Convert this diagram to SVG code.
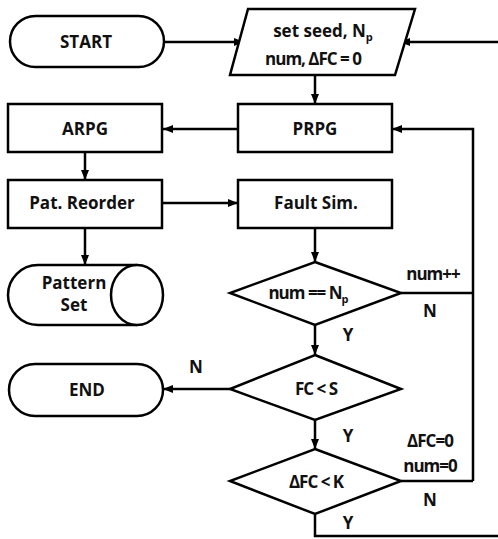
<svg xmlns="http://www.w3.org/2000/svg" width="498" height="539" viewBox="0 0 498 539">
<defs>
<marker id="ah" viewBox="0 0 10 10" refX="10" refY="5" markerWidth="4" markerHeight="4" orient="auto" markerUnits="strokeWidth">
<path d="M0,1 L10,5 L0,9 z" fill="#000"/>
</marker>
<style>
.s{fill:#fff;stroke:#000;stroke-width:2.5}
.c{fill:none;stroke:#000;stroke-width:2.5}
.a{marker-end:url(#ah)}
text{font-family:"Open Sans","Noto Sans","Liberation Sans",sans-serif;font-weight:700;font-size:17px;fill:#111}
.m{text-anchor:middle}
.n{letter-spacing:-1px}
.sub{font-size:11px}
</style>
</defs>
<rect width="498" height="539" fill="#fff"/>
<g id="connectors">
<path class="c a" d="M164,42 L244,42"/>
<path class="c a" d="M498,42 L400,42"/>
<path class="c a" d="M315,75 L315,104"/>
<path class="c a" d="M238,129 L163,129"/>
<path class="c a" d="M85,152 L85,180"/>
<path class="c a" d="M162,203 L238,203"/>
<path class="c a" d="M315,228 L315,262"/>
<path class="c a" d="M85,228 L85,265"/>
<path class="c" d="M401,293 L473,293"/>
<path class="c a" d="M473,481 L473,129 L392,129"/>
<path class="c a" d="M315,325 L315,355"/>
<path class="c a" d="M230,389 L163,389"/>
<path class="c a" d="M315,420 L315,449"/>
<path class="c" d="M401,481 L473,481"/>
<path class="c" d="M315,514 L315,536 L498,536"/>
<text x="433" y="280" class="m n">num++</text>
<text x="430" y="317" class="m">N</text>
<text x="348" y="341" class="m">Y</text>
<text x="196" y="373" class="m">N</text>
<text x="348" y="442" class="m">Y</text>
<text x="430" y="447" class="m n">ΔFC=0</text>
<text x="430" y="472" class="m n">num=0</text>
<text x="430" y="506" class="m">N</text>
<text x="348" y="529" class="m">Y</text>
</g>
<g id="start">
<rect class="s" x="10" y="16" width="154" height="51" rx="25.5"/>
<text x="86" y="48" class="m">START</text>
</g>
<g id="init">
<path class="s" d="M248,9 L415,9 L395,75 L230,75 z"/>
<text x="323" y="37" class="m">set seed, N<tspan class="sub" dy="4">p</tspan></text>
<text x="313" y="65" class="m n">num, ΔFC = 0</text>
</g>
<g id="arpg">
<rect class="s" x="8" y="104" width="154" height="48"/>
<text x="85" y="135" class="m">ARPG</text>
</g>
<g id="prpg">
<rect class="s" x="238" y="104" width="154" height="48"/>
<text x="315" y="135" class="m">PRPG</text>
</g>
<g id="reorder">
<rect class="s" x="8" y="180" width="154" height="48"/>
<text x="82" y="209" class="m">Pat. Reorder</text>
</g>
<g id="faultsim">
<rect class="s" x="238" y="180" width="154" height="48"/>
<text x="316" y="209" class="m">Fault Sim.</text>
</g>
<g id="patternset">
<path class="s" d="M137,265 L38,265 A30,30 0 0 0 38,325 L137,325"/>
<ellipse class="s" cx="137" cy="295" rx="26" ry="30"/>
<text x="74" y="289" class="m">Pattern</text>
<text x="74" y="311" class="m">Set</text>
</g>
<g id="d1">
<path class="s" d="M315,262 L401,293 L315,325 L230,293 z"/>
<text x="308" y="299" class="m n">num == N<tspan class="sub" dy="4">p</tspan></text>
</g>
<g id="end">
<rect class="s" x="9" y="364" width="154" height="52" rx="26"/>
<text x="87" y="396" class="m">END</text>
</g>
<g id="d2">
<path class="s" d="M315,355 L401,389 L315,420 L230,389 z"/>
<text x="316" y="395" class="m n">FC &lt; S</text>
</g>
<g id="d3">
<path class="s" d="M315,449 L401,481 L315,514 L230,481 z"/>
<text x="316" y="488" class="m n">ΔFC &lt; K</text>
</g>
</svg>
